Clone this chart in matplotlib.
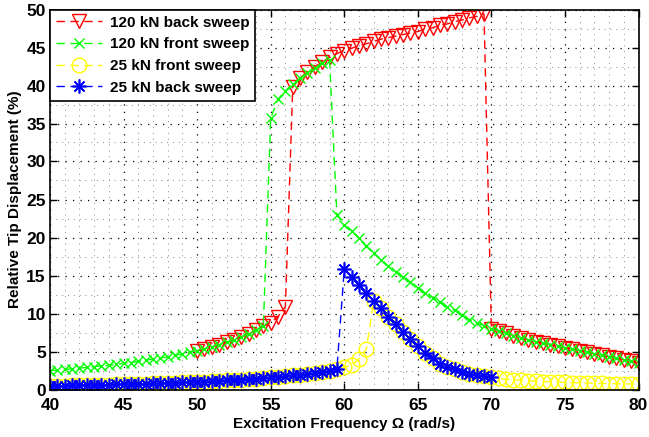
"""Relative tip displacement vs excitation frequency (sweep responses)."""

import numpy as np
import matplotlib
matplotlib.use("Agg")
import matplotlib.pyplot as plt
from matplotlib.ticker import MultipleLocator

# 120 kN back sweep, 50 -> 80 rad/s
freq_120_back = np.arange(50, 80.01, 0.5)
disp_120_back = [
    5.1, 5.3, 5.6, 5.9, 6.2, 6.5, 6.9, 7.3, 7.8, 8.3, 8.8, 9.6, 10.9,
    39.8, 41.0, 41.8, 42.5, 43.1, 43.7, 44.2, 44.6, 44.9, 45.2, 45.5,
    45.8, 46.1, 46.3, 46.5, 46.7, 46.9, 47.1, 47.4, 47.6, 47.9, 48.1,
    48.4, 48.6, 48.9, 49.1, 49.4,
    8.0, 7.7, 7.4, 7.1, 6.8, 6.55, 6.3, 6.1, 5.9, 5.7, 5.5, 5.3, 5.1,
    4.9, 4.7, 4.5, 4.3, 4.1, 3.9, 3.7, 3.5,
]

# 120 kN front sweep, 40 -> 80 rad/s
freq_120_front = np.arange(40, 80.01, 0.5)
disp_120_front = [
    2.5, 2.55, 2.65, 2.7, 2.8, 2.9, 3.0, 3.1, 3.2, 3.3, 3.45, 3.55, 3.7,
    3.85, 4.0, 4.15, 4.3, 4.5, 4.7, 4.9, 5.1, 5.35, 5.6, 5.9, 6.2, 6.5,
    6.9, 7.3, 7.8, 8.3,
    35.7, 38.2, 39.3, 40.2, 41.0, 41.7, 42.3, 42.9, 43.4,
    23.0, 21.6, 20.8, 19.9, 18.9, 18.0, 17.0, 16.2, 15.5, 14.8, 14.1,
    13.3, 12.7, 12.1, 11.5, 10.9, 10.4, 9.8, 9.2, 8.8, 8.4,
    8.0, 7.7, 7.4, 7.1, 6.8, 6.55, 6.3, 6.1, 5.9, 5.7, 5.5, 5.3, 5.1,
    4.9, 4.7, 4.5, 4.3, 4.1, 3.9, 3.7, 3.5,
]

# 25 kN front sweep, 40 -> 80 rad/s
freq_25_front = np.arange(40, 80.01, 0.5)
disp_25_front = [
    0.5, 0.5, 0.52, 0.54, 0.56, 0.58, 0.6, 0.62, 0.65, 0.67, 0.7, 0.72,
    0.75, 0.78, 0.8, 0.83, 0.86, 0.9, 0.93, 0.97, 1.0, 1.05, 1.1, 1.15,
    1.2, 1.25, 1.3, 1.37, 1.44, 1.5, 1.58, 1.66, 1.75, 1.85, 1.95, 2.05,
    2.2, 2.35, 2.5, 2.7,
    2.9, 3.2, 4.0, 5.3,
    11.6, 10.7, 9.6, 8.6, 7.6, 6.6, 5.7, 4.8, 4.1, 3.4, 3.0, 2.65, 2.35,
    2.1, 1.95, 1.78, 1.6,
    1.45, 1.35, 1.28, 1.2, 1.15, 1.1, 1.05, 1.0, 0.97, 0.94, 0.9, 0.87,
    0.85, 0.82, 0.8, 0.78, 0.76, 0.74, 0.72, 0.7,
]

# 25 kN back sweep, 40 -> 70 rad/s
freq_25_back = np.arange(40, 70.01, 0.5)
disp_25_back = [
    0.5, 0.5, 0.52, 0.54, 0.56, 0.58, 0.6, 0.62, 0.65, 0.67, 0.7, 0.72,
    0.75, 0.78, 0.8, 0.83, 0.86, 0.9, 0.93, 0.97, 1.0, 1.05, 1.1, 1.15,
    1.2, 1.25, 1.3, 1.37, 1.44, 1.5, 1.58, 1.66, 1.75, 1.85, 1.95, 2.05,
    2.2, 2.35, 2.5, 2.7,
    15.8, 14.8, 13.8, 12.7, 11.6, 10.7, 9.6, 8.6, 7.6, 6.6, 5.7, 4.8,
    4.1, 3.4, 3.0, 2.65, 2.35, 2.1, 1.95, 1.78, 1.6,
]

plt.rcParams["font.family"] = ["Liberation Sans", "DejaVu Sans"]
plt.rcParams["font.weight"] = "bold"

fig = plt.figure(figsize=(6.49, 4.37), dpi=100)
ax = fig.add_axes([50 / 649, 1 - 389.5 / 437, 588.5 / 649, 380 / 437])

dash = (6, 4)
ax.plot(freq_120_back, disp_120_back, "--", dashes=dash, color="#ff0000",
        lw=1, marker="v", ms=10.5, mfc="none", mew=1,
        label="120 kN back sweep")
ax.plot(freq_120_front, disp_120_front, "--", dashes=dash, color="#00ff00",
        lw=1, marker="x", ms=7, mew=1, label="120 kN front sweep")
ax.plot(freq_25_front, disp_25_front, "--", dashes=dash, color="#ffff00",
        lw=1, marker="o", ms=10.5, mfc="none", mew=1,
        label="25 kN front sweep")
ax.plot(freq_25_back, disp_25_back, "--", dashes=dash, color="#0000ff",
        lw=1, marker=(8, 2, 0), ms=10, mew=1.2, label="25 kN back sweep")

ax.set_xlim(40, 80)
ax.set_ylim(0, 50)
ax.xaxis.set_major_locator(MultipleLocator(5))
ax.xaxis.set_minor_locator(MultipleLocator(1))
ax.yaxis.set_major_locator(MultipleLocator(5))
ax.yaxis.set_minor_locator(MultipleLocator(2.5))
ax.grid(which="major", color="black", ls=(0, (1, 5)), lw=0.9)
ax.grid(which="minor", color="#888888", ls=(0, (1, 5)), lw=0.7)
ax.set_axisbelow(True)
ax.tick_params(which="major", direction="in", length=5, width=1,
               top=True, right=True, labelsize=12.5)
ax.tick_params(axis="x", pad=6)
ax.tick_params(axis="y", pad=3)
ax.tick_params(which="minor", length=0)
for lab in ax.get_xticklabels() + ax.get_yticklabels():
    lab.set_fontweight("bold")
for s in ax.spines.values():
    s.set_linewidth(1.2)

ax.set_xlabel("Excitation Frequency \u03a9 (rad/s)", fontsize=11,
              fontweight="bold", labelpad=3)
ax.set_ylabel("Relative Tip Displacement (%)", fontsize=11,
              fontweight="bold", labelpad=3)

leg = ax.legend(loc="upper left", borderaxespad=0, fancybox=False,
                framealpha=1, edgecolor="black", handlelength=3.0,
                prop={"size": 11, "weight": "bold"}, labelspacing=0.5,
                borderpad=0.4, handletextpad=0.5)
leg.get_frame().set_linewidth(1.2)

fig.savefig("out.png", dpi=100)
